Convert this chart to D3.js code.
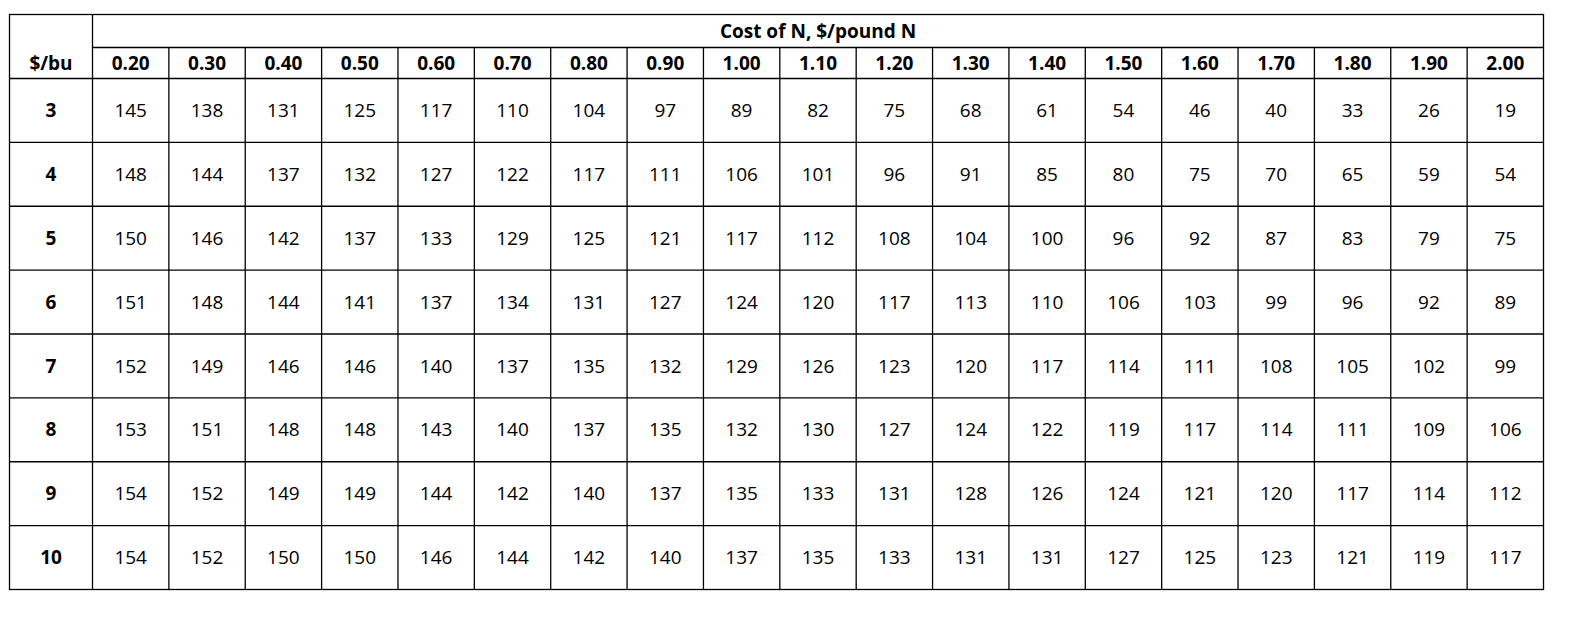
<!DOCTYPE html>
<html><head><meta charset="utf-8">
<script src="https://cdn.jsdelivr.net/npm/d3@7"></script>
<style>body{margin:0;background:#fff}svg{font-family:"Open Sans",sans-serif}</style>
</head><body><div id="chart"></div>
<script>
const costs = ['0.20','0.30','0.40','0.50','0.60','0.70','0.80','0.90','1.00','1.10','1.20','1.30','1.40','1.50','1.60','1.70','1.80','1.90','2.00'];
const prices = ['3','4','5','6','7','8','9','10'];
const rate3 = [145,138,131,125,117,110,104,97,89,82,75,68,61,54,46,40,33,26,19];
const rate4 = [148,144,137,132,127,122,117,111,106,101,96,91,85,80,75,70,65,59,54];
const rate5 = [150,146,142,137,133,129,125,121,117,112,108,104,100,96,92,87,83,79,75];
const rate6 = [151,148,144,141,137,134,131,127,124,120,117,113,110,106,103,99,96,92,89];
const rate7 = [152,149,146,146,140,137,135,132,129,126,123,120,117,114,111,108,105,102,99];
const rate8 = [153,151,148,148,143,140,137,135,132,130,127,124,122,119,117,114,111,109,106];
const rate9 = [154,152,149,149,144,142,140,137,135,133,131,128,126,124,121,120,117,114,112];
const rate10 = [154,152,150,150,146,144,142,140,137,135,133,131,131,127,125,123,121,119,117];
const rates = [rate3,rate4,rate5,rate6,rate7,rate8,rate9,rate10];
const title = 'Cost of N, $/pound N';
const rowHead = '$/bu';

const svg = d3.select('#chart').append('svg').attr('width',1578).attr('height',620);
const x0 = 9.5, firstW = 83, x1 = 1543.5, y0 = 14.5, h1 = 33, h2 = 31, y1 = 589.5;
const x = d3.scaleBand().domain(costs).range([x0+firstW, x1]);
const y = d3.scaleBand().domain(prices).range([y0+h1+h2, y1]);
const g = svg.append('g').attr('stroke','#000').attr('stroke-width',1.3).attr('fill','none');

// outer box and grid lines
g.append('rect').attr('x',x0).attr('y',y0).attr('width',x1-x0).attr('height',y1-y0);
g.append('line').attr('x1',x0+firstW).attr('x2',x0+firstW).attr('y1',y0).attr('y2',y1);
g.append('line').attr('x1',x0+firstW).attr('x2',x1).attr('y1',y0+h1).attr('y2',y0+h1);
g.selectAll('.cv').data(costs.slice(1)).join('line').attr('class','cv')
  .attr('x1',d=>x(d)).attr('x2',d=>x(d)).attr('y1',y0+h1).attr('y2',y1);
g.selectAll('.rh').data(prices).join('line').attr('class','rh')
  .attr('x1',x0).attr('x2',x1).attr('y1',d=>y(d)).attr('y2',d=>y(d));

const t = svg.append('g').attr('fill','#000').attr('text-anchor','middle').attr('font-size',19);
t.append('text').attr('x',(x0+firstW+x1)/2).attr('y',y0+h1/2).attr('dy','0.35em')
  .attr('font-weight','bold').text(title);
t.append('text').attr('x',x0+firstW/2).attr('y',y0+h1+h2/2).attr('dy','0.35em')
  .attr('font-weight','bold').text(rowHead);
t.selectAll('.ch').data(costs).join('text').attr('class','ch')
  .attr('x',d=>x(d)+x.bandwidth()/2).attr('y',y0+h1+h2/2).attr('dy','0.35em')
  .attr('font-weight','bold').text(d=>d);
t.selectAll('.rl').data(prices).join('text').attr('class','rl')
  .attr('x',x0+firstW/2).attr('y',d=>y(d)+y.bandwidth()/2).attr('dy','0.35em')
  .attr('font-weight','bold').text(d=>d);
prices.forEach((p,i)=>{
  t.selectAll('.v'+i).data(rates[i]).join('text').attr('class','v'+i)
    .attr('x',(d,j)=>x(costs[j])+x.bandwidth()/2).attr('y',y(p)+y.bandwidth()/2).attr('dy','0.35em')
    .text(d=>d);
});
</script></body></html>
